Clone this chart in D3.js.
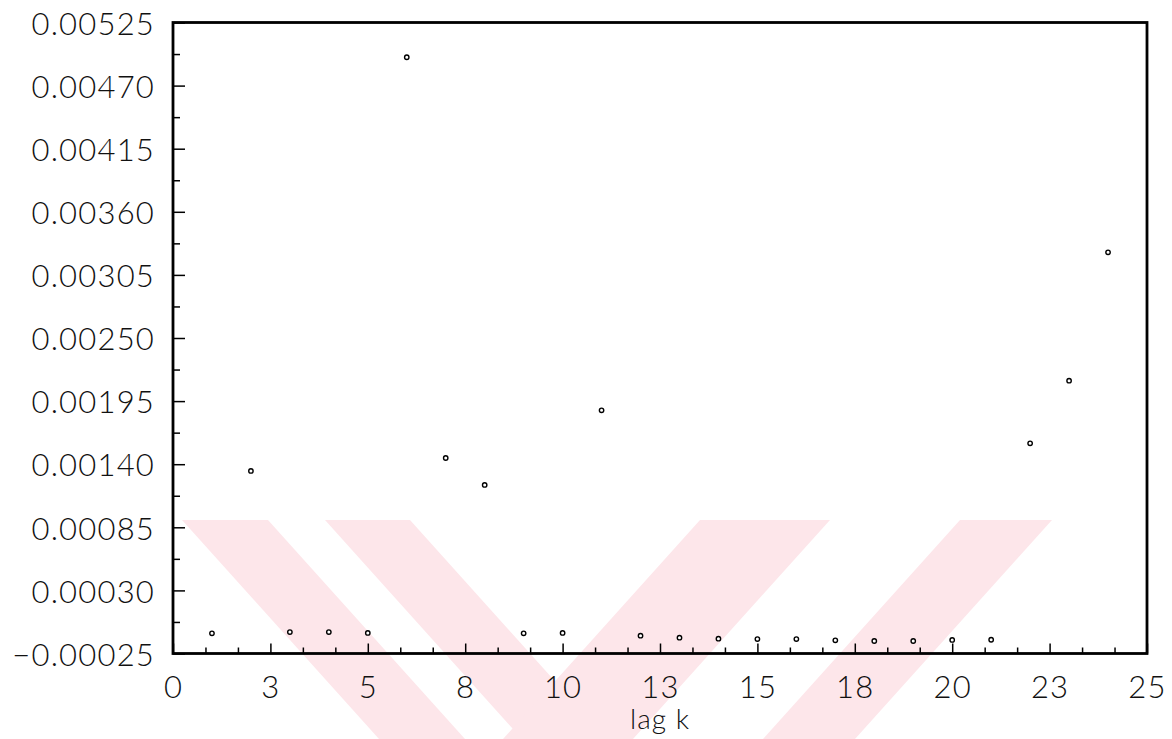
<!DOCTYPE html>
<html>
<head>
<meta charset="utf-8">
<script src="https://cdn.jsdelivr.net/npm/d3@7"></script>
<style>
  body { margin: 0; background: #fff; }
  svg text { font-family: Lato, "Open Sans", "DejaVu Sans", sans-serif; font-weight: 300; fill: #111; }
</style>
</head>
<body>
<svg id="chart" width="1172" height="739"></svg>
<script>
// lag k and the value plotted at each lag
var lags = [1, 2, 3, 4, 5, 6, 7, 8, 9, 10, 11, 12, 13, 14, 15, 16, 17, 18, 19, 20, 21, 22, 23, 24];
var values = [-0.000074, 0.001341, -0.000063, -0.000063, -0.000071, 0.004947, 0.001454, 0.001219,
  -0.000074, -0.000071, 0.001870, -0.000095, -0.000112, -0.000121, -0.000124, -0.000124,
  -0.000135, -0.000141, -0.000141, -0.000132, -0.000130, 0.001582, 0.002128, 0.003247];

// tick values and labels
var yTicks = [-0.00025, 0.00030, 0.00085, 0.00140, 0.00195, 0.00250, 0.00305, 0.00360, 0.00415, 0.00470, 0.00525];
var yTickLabels = ["\u22120.00025", "0.00030", "0.00085", "0.00140", "0.00195", "0.00250",
  "0.00305", "0.00360", "0.00415", "0.00470", "0.00525"];
var xTicks = [0, 2.5, 5, 7.5, 10, 12.5, 15, 17.5, 20, 22.5, 25];
var xTickLabels = ["0", "3", "5", "8", "10", "13", "15", "18", "20", "23", "25"];
var xLabel = "lag k";

var svg = d3.select("#chart");
var plotLeft = 173, plotTop = 22.5, plotRight = 1147, plotBottom = 653.5;

var x = d3.scaleLinear().domain([0, 25]).range([plotLeft, plotRight]);
var y = d3.scaleLinear().domain([-0.00025, 0.00525]).range([plotBottom, plotTop]);

// watermark (faint pink stripes behind the plot)
var wm = svg.append("g").attr("fill", "#fde6ea");
var bands = [
  [[182, 520], [268, 520], [465, 739], [379, 739]],
  [[325, 520], [410, 520], [607, 739], [522, 739]],
  [[700, 520], [830, 520], [633, 739], [503, 739]],
  [[960, 520], [1052, 520], [855, 739], [763, 739]]
];
wm.selectAll("path").data(bands).enter().append("path")
  .attr("d", function(d) { return "M" + d.join("L") + "Z"; });

// minor ticks
var yMinor = d3.range(yTicks.length - 1).map(function(i) { return (yTicks[i] + yTicks[i + 1]) / 2; });
svg.append("g")
  .attr("transform", "translate(" + plotLeft + ",0)")
  .call(d3.axisLeft(y).tickValues(yMinor).tickSize(-7).tickFormat(""))
  .call(function(g) { g.select(".domain").remove(); g.selectAll("line").attr("stroke-width", 1.5); });

var xMinor = d3.range(0, 31).map(function(i) { return i * 25 / 30; })
  .filter(function(v, i) { return i % 3 !== 0; });
svg.append("g")
  .attr("transform", "translate(0," + plotBottom + ")")
  .call(d3.axisBottom(x).tickValues(xMinor).tickSize(-6).tickFormat(""))
  .call(function(g) { g.select(".domain").remove(); g.selectAll("line").attr("stroke-width", 1.5); });

// major ticks with labels
svg.append("g")
  .attr("transform", "translate(" + plotLeft + ",0)")
  .call(d3.axisLeft(y).tickValues(yTicks).tickSize(-12)
    .tickFormat(function(d, i) { return yTickLabels[i]; }))
  .call(function(g) {
    g.select(".domain").remove();
    g.selectAll("line").attr("stroke-width", 1.5);
    g.selectAll("text").attr("font-size", 31).attr("letter-spacing", 1.2)
      .attr("fill", "#111").attr("dy", "0.38em").attr("x", -18);
  });

svg.append("g")
  .attr("transform", "translate(0," + plotBottom + ")")
  .call(d3.axisBottom(x).tickValues(xTicks).tickSize(-10)
    .tickFormat(function(d, i) { return xTickLabels[i]; }))
  .call(function(g) {
    g.select(".domain").remove();
    g.selectAll("line").attr("stroke-width", 1.5);
    g.selectAll("text").attr("font-size", 31).attr("letter-spacing", 1.2)
      .attr("fill", "#111").attr("y", 44).attr("dy", 0);
  });

svg.append("text")
  .attr("x", (plotLeft + plotRight) / 2)
  .attr("y", 729)
  .attr("text-anchor", "middle")
  .attr("font-size", 28)
  .attr("letter-spacing", 1)
  .text(xLabel);

// frame
svg.append("rect")
  .attr("x", plotLeft).attr("y", plotTop)
  .attr("width", plotRight - plotLeft).attr("height", plotBottom - plotTop)
  .attr("fill", "none").attr("stroke", "#000").attr("stroke-width", 2.8);

// points
svg.append("g").selectAll("circle")
  .data(lags)
  .enter().append("circle")
  .attr("cx", function(d) { return x(d); })
  .attr("cy", function(d, i) { return y(values[i]); })
  .attr("r", 2.2)
  .attr("fill", "#fff")
  .attr("stroke", "#000")
  .attr("stroke-width", 1.4);
</script>
</body>
</html>
